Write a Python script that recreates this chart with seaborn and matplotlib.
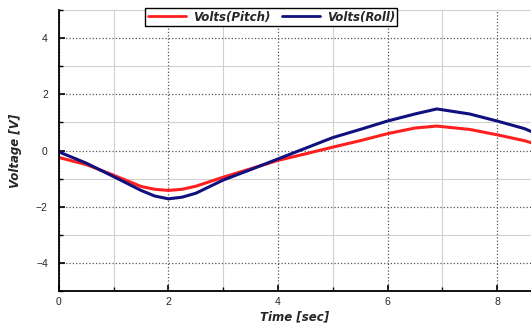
import matplotlib
matplotlib.use("Agg")
import matplotlib.pyplot as plt
from matplotlib.ticker import MultipleLocator
import seaborn as sns
import pandas as pd

# values
time_s = [0, 0.5, 1.0, 1.5, 1.75, 2.0, 2.25, 2.5, 3.0, 3.5, 4.0, 4.5, 5.0,
          5.5, 6.0, 6.5, 6.9, 7.5, 8.0, 8.5, 8.62]
volts_pitch = [-0.25, -0.5, -0.88, -1.28, -1.38, -1.42, -1.38, -1.27, -0.95,
               -0.65, -0.35, -0.12, 0.12, 0.35, 0.6, 0.8, 0.87, 0.75, 0.56,
               0.35, 0.28]
volts_roll = [-0.05, -0.45, -0.93, -1.42, -1.62, -1.72, -1.66, -1.52, -1.05,
              -0.68, -0.3, 0.08, 0.46, 0.75, 1.05, 1.3, 1.48, 1.3, 1.05,
              0.78, 0.68]
series = ["Volts(Pitch)", "Volts(Roll)"]

sns.set_style("white")
plt.rcParams['font.family'] = ['Liberation Sans', 'DejaVu Sans']

df = pd.DataFrame({
    "t": time_s * 2,
    "v": volts_pitch + volts_roll,
    "s": [series[0]] * len(time_s) + [series[1]] * len(time_s),
})

fig = plt.figure(figsize=(5.31, 3.29), dpi=100)
ax = fig.add_axes([0.111, 0.1155, 0.889, 0.854])

sns.lineplot(data=df, x="t", y="v", hue="s", palette=["#ff1f1f", "#10107f"],
             linewidth=2.2, ax=ax, legend=True)

ax.set_xlim(0, 8.62)
ax.set_ylim(-5, 5)
ax.xaxis.set_major_locator(MultipleLocator(2))
ax.xaxis.set_minor_locator(MultipleLocator(1))
ax.yaxis.set_major_locator(MultipleLocator(2))
ax.yaxis.set_minor_locator(MultipleLocator(1))
ax.set_yticks([-4, -2, 0, 2, 4])

ax.grid(which="major", linestyle=":", color="#555555", linewidth=0.9)
ax.grid(which="minor", linestyle="-", color="#d0d0d0", linewidth=0.8)
ax.set_axisbelow(True)

for side in ["top", "right"]:
    ax.spines[side].set_visible(False)
ax.spines["left"].set_color("black")
ax.spines["left"].set_linewidth(1.3)
ax.spines["bottom"].set_color("black")
ax.spines["bottom"].set_linewidth(1.3)

ax.tick_params(which="major", direction="in", length=4, width=1.2,
               labelsize=7.5, color="black", left=True, bottom=True)
ax.tick_params(axis="y", which="major", pad=8)
ax.tick_params(axis="x", which="major", pad=4)
ax.tick_params(which="minor", direction="in", length=3, width=1.0,
               color="black", left=True, bottom=True)

lab_font = dict(family="DejaVu Sans", weight="bold", style="italic", size=8.5)
ax.set_xlabel("Time [sec]", fontdict=lab_font, labelpad=3)
ax.set_ylabel("Voltage [V]", fontdict=lab_font, labelpad=10)

leg = ax.legend(loc="center", bbox_to_anchor=(0.45, 0.975), ncol=2,
                fancybox=False, framealpha=1, edgecolor="black",
                handlelength=3.2, handletextpad=0.6, columnspacing=1.0,
                borderpad=0.2, prop=dict(family="DejaVu Sans", weight="bold",
                                         style="italic", size=8.5))
leg.get_frame().set_linewidth(1.0)
leg.set_zorder(5)
for line in leg.get_lines():
    line.set_linewidth(2.0)

fig.savefig("out.png", dpi=100)
